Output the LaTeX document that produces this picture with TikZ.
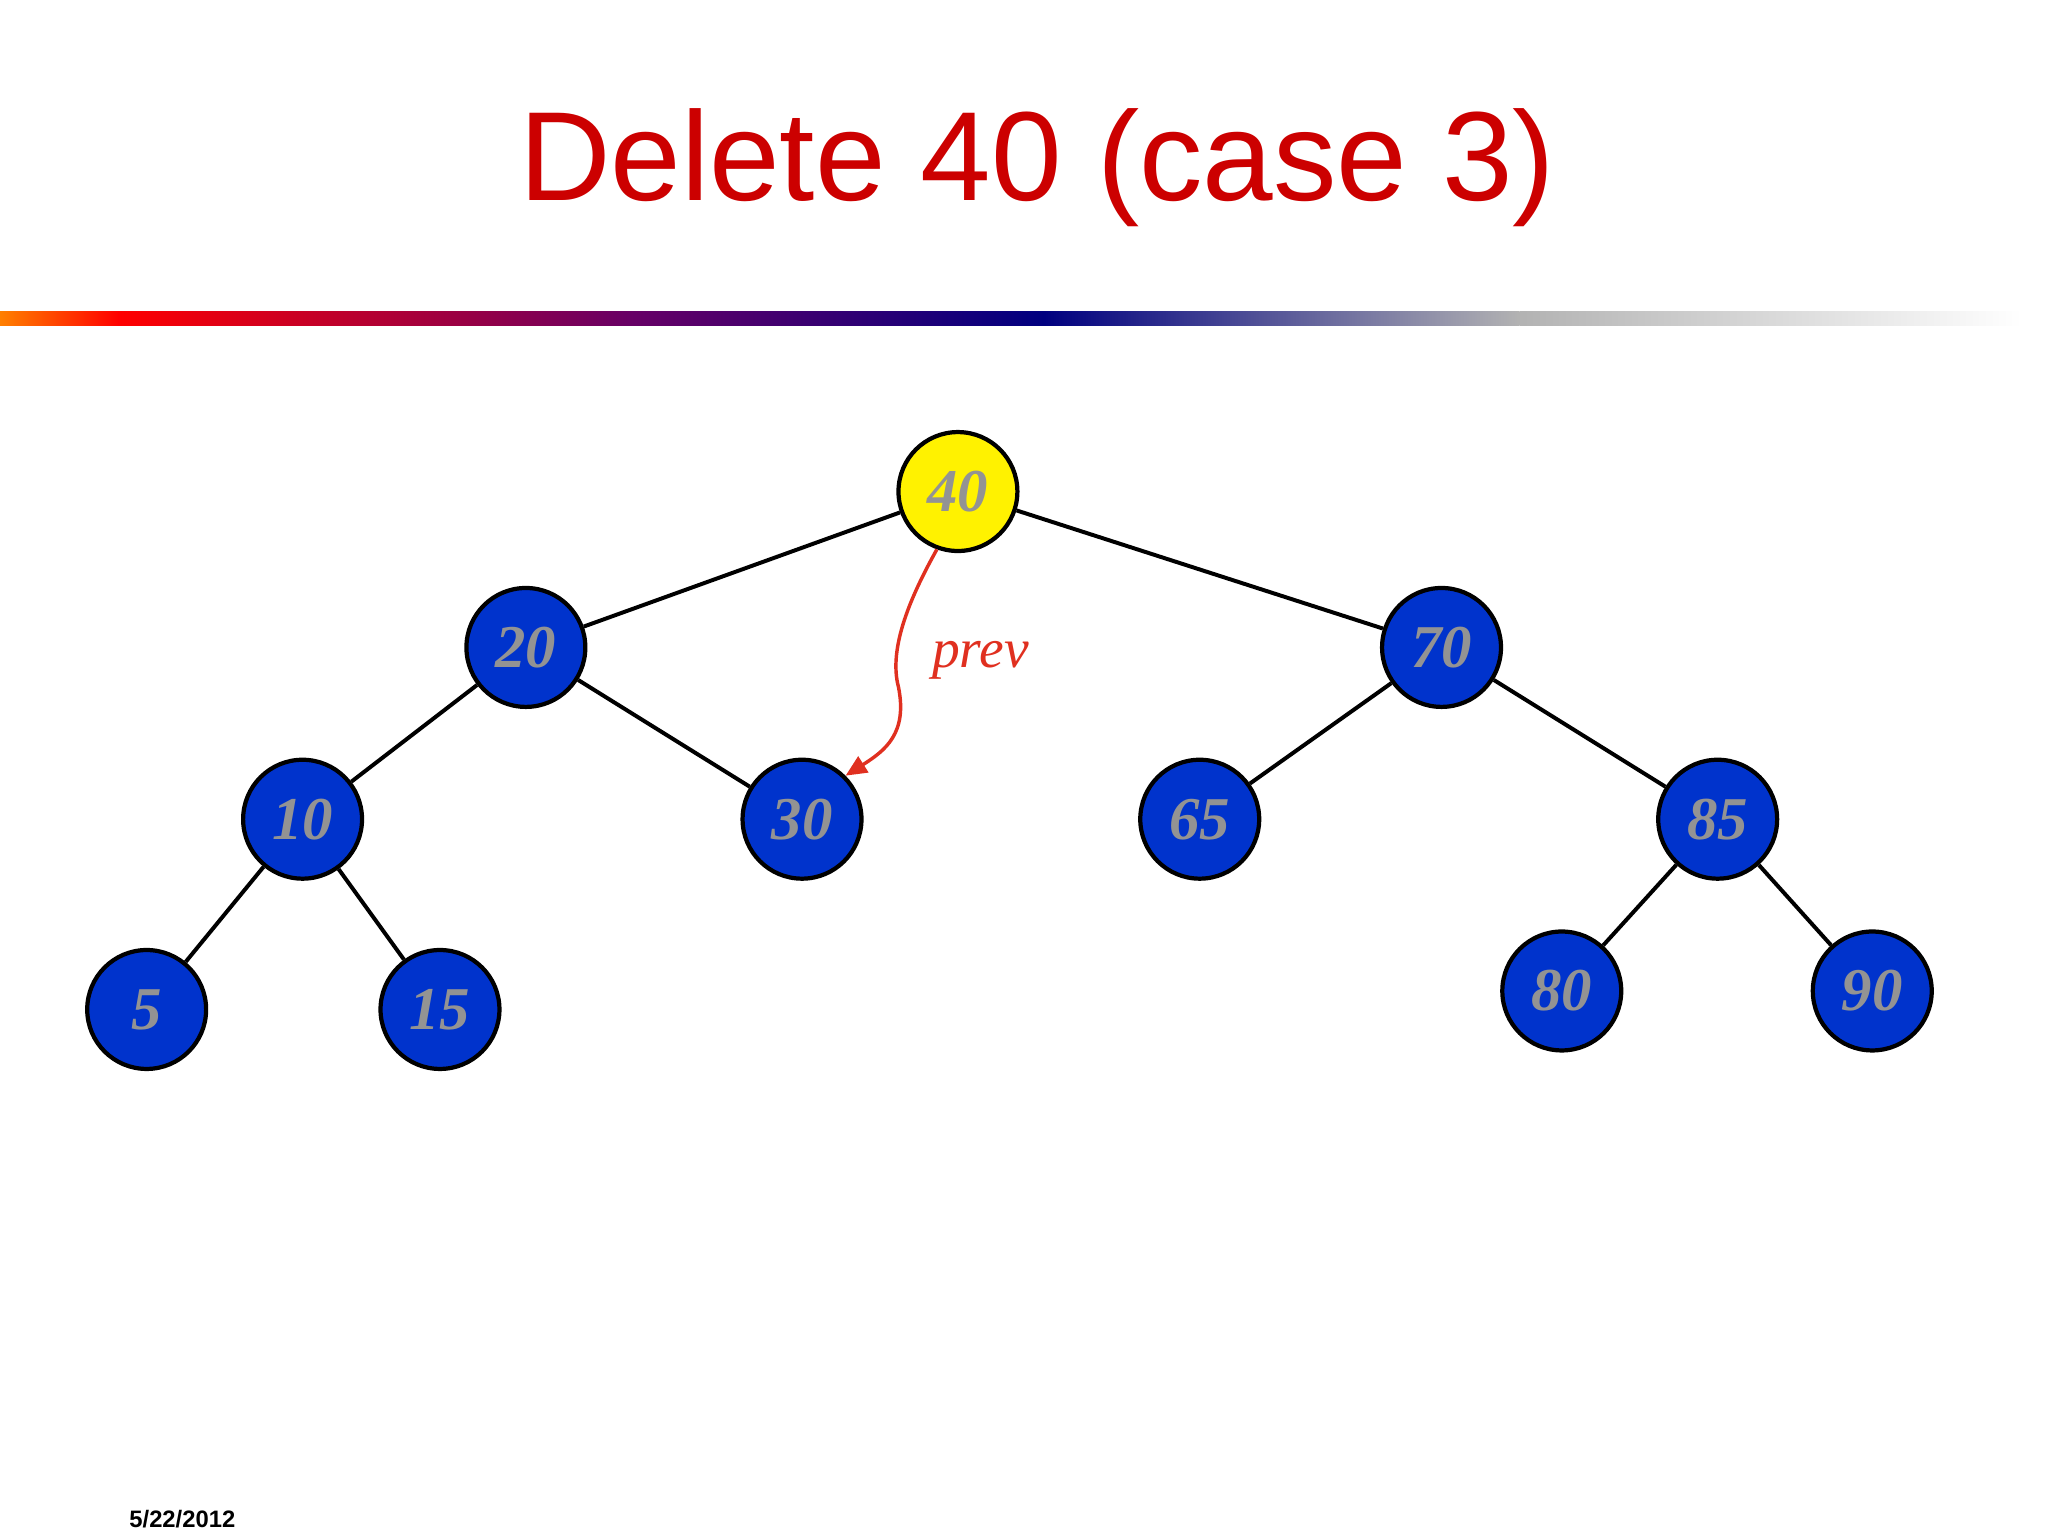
\documentclass[tikz,border=0pt]{standalone}
\usepackage{fontspec}
\setmainfont{Liberation Serif}
\newfontfamily\sansf{Liberation Sans}
\usetikzlibrary{arrows.meta}
\definecolor{titlered}{RGB}{204,0,0}
\definecolor{nodeblue}{RGB}{0,51,204}
\definecolor{arrred}{RGB}{224,48,32}
\begin{document}
\begin{tikzpicture}[x=1pt,y=-1pt,
  tn/.style={circle,draw=black,line width=3.2pt,fill=nodeblue,minimum size=90pt,inner sep=0pt,
    font=\fontsize{46}{46}\selectfont\bfseries\itshape,text=gray!85},
  ed/.style={line width=3pt}]
\useasboundingbox[fill=white] (0,0) rectangle (1550,1162.5);
\node[font=\sansf\fontsize{96}{96}\selectfont,text=titlered] (title) at (785,127) {Delete 40 (case 3)};
\shade[left color=orange,right color=red,shading angle=90] (0,236) rectangle (90,246);
\shade[left color=red,right color=violet!80!black] (90,236) rectangle (480,246);
\shade[left color=violet!80!black,right color=blue!50!black] (480,236) rectangle (790,246);
\shade[left color=blue!50!black,right color=gray!60] (790,236) rectangle (1150,246);
\shade[left color=gray!60,right color=white] (1150,236) rectangle (1530,246);
\node[tn,fill=yellow] (n40) at (725,372) {40};
\node[tn] (n20) at (398,490) {20};
\node[tn] (n70) at (1091,490) {70};
\node[tn] (n10) at (229,620) {10};
\node[tn] (n30) at (607,620) {30};
\node[tn] (n65) at (908,620) {65};
\node[tn] (n85) at (1300,620) {85};
\node[tn] (n5) at (111,764) {5};
\node[tn] (n15) at (333,764) {15};
\node[tn] (n80) at (1182,750) {80};
\node[tn] (n90) at (1417,750) {90};
\draw[ed] (n40)--(n20); \draw[ed] (n40)--(n70);
\draw[ed] (n20)--(n10); \draw[ed] (n20)--(n30);
\draw[ed] (n70)--(n65); \draw[ed] (n70)--(n85);
\draw[ed] (n10)--(n5); \draw[ed] (n10)--(n15);
\draw[ed] (n85)--(n80); \draw[ed] (n85)--(n90);
\draw[arrred,line width=2.6pt,-{Triangle[length=16pt,width=14pt]}] (n40.-110) .. controls (690,450) and (672,490) .. (680,520) .. controls (687,555) and (670,568) .. (n30.45);
\node[font=\fontsize{42}{42}\selectfont\itshape,text=arrred] (prev) at (742,500) {prev};
\node[font=\sansf\fontsize{18}{18}\selectfont\bfseries] (date) at (138,1150) {5/22/2012};
\end{tikzpicture}
\end{document}
